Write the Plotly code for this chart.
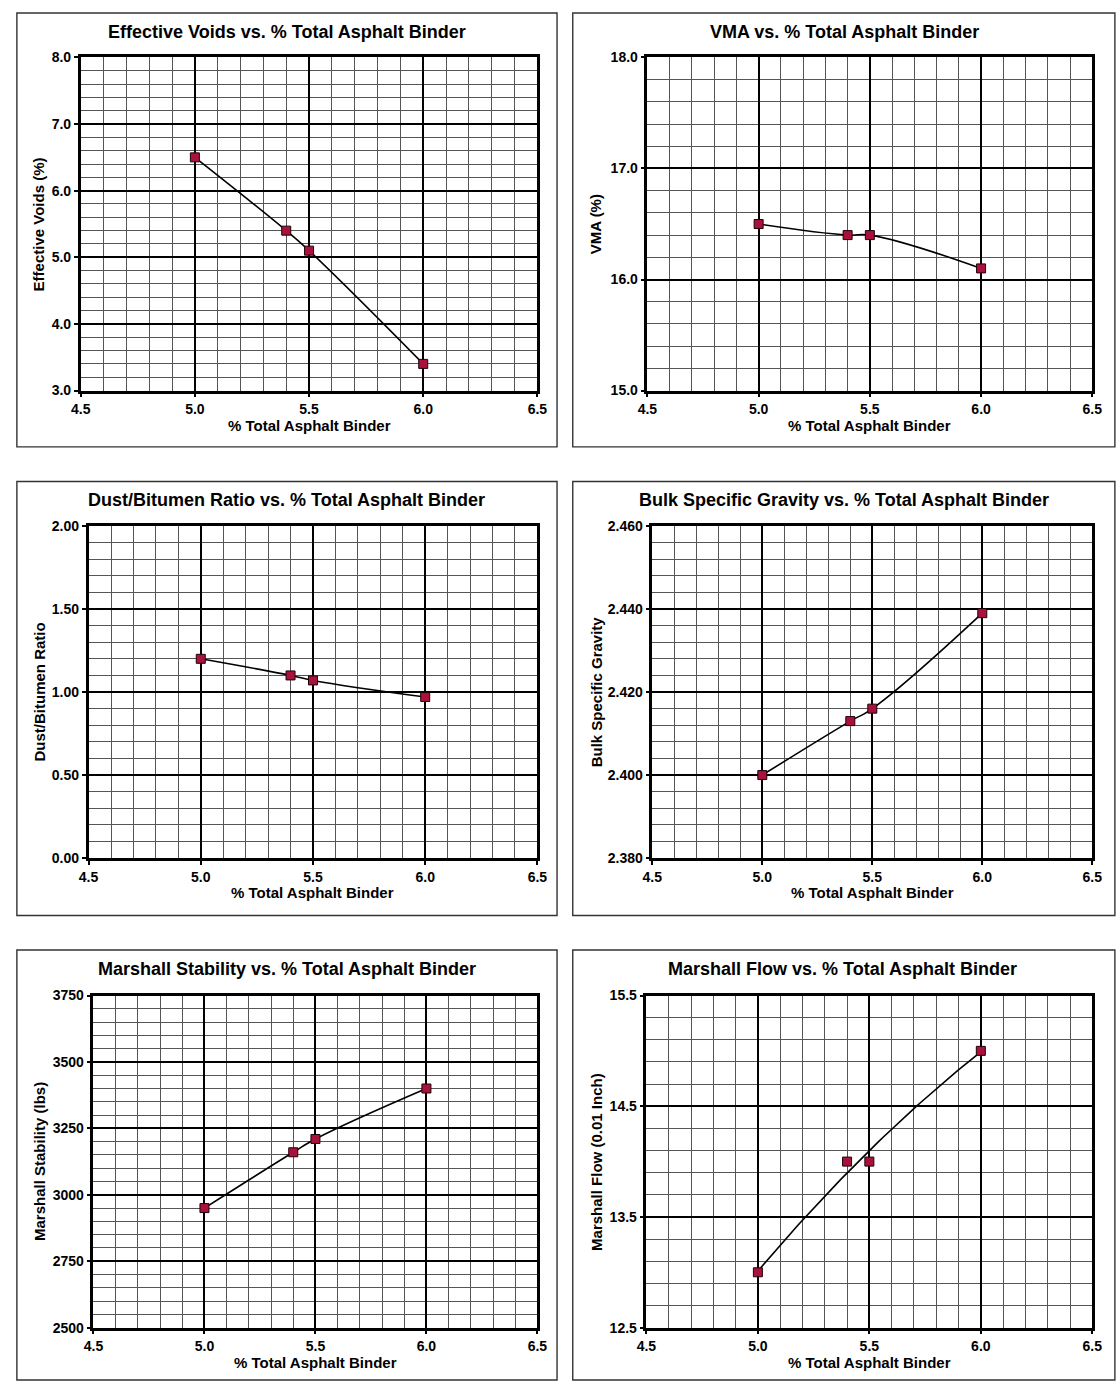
import numpy as np
import plotly.graph_objects as go

# ---------------- data ----------------
binder = [5.0, 5.4, 5.5, 6.0]

effective_voids = [6.5, 5.4, 5.1, 3.4]
vma = [16.5, 16.4, 16.4, 16.1]
dust_bitumen = [1.20, 1.10, 1.07, 0.97]
bulk_sg = [2.400, 2.413, 2.416, 2.439]
marshall_stability = [2950, 3160, 3210, 3400]
marshall_flow = [13.0, 14.0, 14.0, 15.0]

titles = [
    "Effective Voids vs. % Total Asphalt Binder",
    "VMA vs. % Total Asphalt Binder",
    "Dust/Bitumen Ratio vs. % Total Asphalt Binder",
    "Bulk Specific Gravity vs. % Total Asphalt Binder",
    "Marshall Stability vs. % Total Asphalt Binder",
    "Marshall Flow vs. % Total Asphalt Binder",
]
y_titles = [
    "Effective Voids (%)",
    "VMA (%)",
    "Dust/Bitumen Ratio",
    "Bulk Specific Gravity",
    "Marshall Stability (lbs)",
    "Marshall Flow (0.01 Inch)",
]
x_title = "% Total Asphalt Binder"
series = [effective_voids, vma, dust_bitumen, bulk_sg, marshall_stability, marshall_flow]

y_ranges = [(3.0, 8.0), (15.0, 18.0), (0.0, 2.0), (2.380, 2.460), (2500, 3750), (12.5, 15.5)]
y_major = [1.0, 1.0, 0.5, 0.02, 250, 1.0]
y_minor = [0.2, 0.2, 0.1, 0.004, 50, 0.2]
y_fmt = [".1f", ".1f", ".2f", ".3f", "d", ".1f"]
x_range = (4.5, 6.5)

# ---------------- layout geometry (pixels) ----------------
W, H = 1119, 1391
# plot areas: (x0, x1, ytop, ybottom)
plot_px = [
    (72, 537, 50, 387),
    (649, 1102, 50, 387),
    (80, 537, 524, 860),
    (654, 1102, 524, 860),
    (85, 537, 999, 1335),
    (648, 1102, 999, 1335),
]
# frames: (x0, x1, ytop, ybottom)
box_px = [
    (7, 557, 5, 444),
    (573, 1125, 5, 444),
    (7, 557, 479, 918),
    (573, 1125, 479, 918),
    (7, 557, 953, 1388),
    (573, 1125, 953, 1388),
]
title_cx = [282, 850, 282, 849, 282, 848]
ytitle_x = [30, 597, 30, 597, 30, 597]

def px(x):
    return x / W

def py(y):
    return 1 - y / H

FONT = "Liberation Sans, Arial, sans-serif"
MARKER_COLOR = "#A8123C"

fig = go.Figure()
layout = dict(
    width=W, height=H,
    margin=dict(l=0, r=0, t=0, b=0),
    paper_bgcolor="white", plot_bgcolor="white",
    showlegend=False,
    font=dict(family=FONT, color="black"),
)
shapes = []
annotations = []

for i in range(6):
    n = "" if i == 0 else str(i + 1)
    xa, ya = "x" + n, "y" + n
    ys = series[i]

    if i == 5:
        # polynomial (2nd order) trendline fitted to the data
        coef = np.polyfit(binder, ys, 2)
        xs = np.linspace(min(binder), max(binder), 60)
        fig.add_trace(go.Scatter(x=xs, y=np.polyval(coef, xs), mode="lines",
                                 line=dict(color="black", width=1.6),
                                 xaxis=xa, yaxis=ya, hoverinfo="skip"))
        fig.add_trace(go.Scatter(x=binder, y=ys, mode="markers",
                                 marker=dict(symbol="square", size=9, color=MARKER_COLOR,
                                             line=dict(color="#200008", width=1)),
                                 xaxis=xa, yaxis=ya))
    else:
        fig.add_trace(go.Scatter(x=binder, y=ys, mode="lines+markers",
                                 line=dict(color="black", width=1.6, shape="spline", smoothing=1.3),
                                 marker=dict(symbol="square", size=9, color=MARKER_COLOR,
                                             line=dict(color="#200008", width=1)),
                                 xaxis=xa, yaxis=ya))

    x0, x1, yt, yb = plot_px[i]
    common = dict(
        showline=True, linecolor="black", linewidth=2.5, mirror=True,
        showgrid=True, gridcolor="black", gridwidth=2.2,
        ticks="outside", ticklen=4, tickwidth=1.5, tickcolor="black",
        tickfont=dict(family=FONT, size=14, color="black", weight="bold"),
        zeroline=False, fixedrange=True,
    )
    layout["xaxis" + n] = dict(
        common, domain=[px(x0), px(x1)], anchor=ya, range=list(x_range),
        dtick=0.5, tick0=4.5, tickformat=".1f",
        minor=dict(dtick=0.1, tick0=4.5, showgrid=True, gridcolor="#555555", gridwidth=0.8, ticks=""),
    )
    layout["yaxis" + n] = dict(
        common, domain=[py(yb), py(yt)], anchor=xa, range=list(y_ranges[i]),
        dtick=y_major[i], tick0=y_ranges[i][0], tickformat=y_fmt[i],
        minor=dict(dtick=y_minor[i], tick0=y_ranges[i][0], showgrid=True, gridcolor="#555555",
                   gridwidth=0.8, ticks=""),
    )

    bx0, bx1, byt, byb = box_px[i]
    shapes.append(dict(type="rect", xref="paper", yref="paper",
                       x0=px(bx0), x1=px(bx1), y0=py(byb), y1=py(byt),
                       line=dict(color="#333333", width=1.4), fillcolor="rgba(0,0,0,0)", layer="below"))
    annotations.append(dict(text=titles[i], xref="paper", yref="paper",
                            x=px(title_cx[i]), y=py(byt + 19),
                            xanchor="center", yanchor="middle", showarrow=False,
                            font=dict(family=FONT, size=18, color="black", weight="bold")))
    annotations.append(dict(text=x_title, xref="paper", yref="paper",
                            x=px((x0 + x1) / 2), y=py(yb + 35),
                            xanchor="center", yanchor="middle", showarrow=False,
                            font=dict(family=FONT, size=15, color="black", weight="bold")))
    annotations.append(dict(text=y_titles[i], xref="paper", yref="paper",
                            x=px(ytitle_x[i]), y=py((yt + yb) / 2), textangle=-90,
                            xanchor="center", yanchor="middle", showarrow=False,
                            font=dict(family=FONT, size=15, color="black", weight="bold")))

layout["shapes"] = shapes
layout["annotations"] = annotations
fig.update_layout(**layout)
fig.write_html(
    "out.html",
    config={"displayModeBar": False},
    post_script="document.body.style.margin='0';document.body.style.padding='0';"
                "document.body.style.overflow='hidden';",
)
